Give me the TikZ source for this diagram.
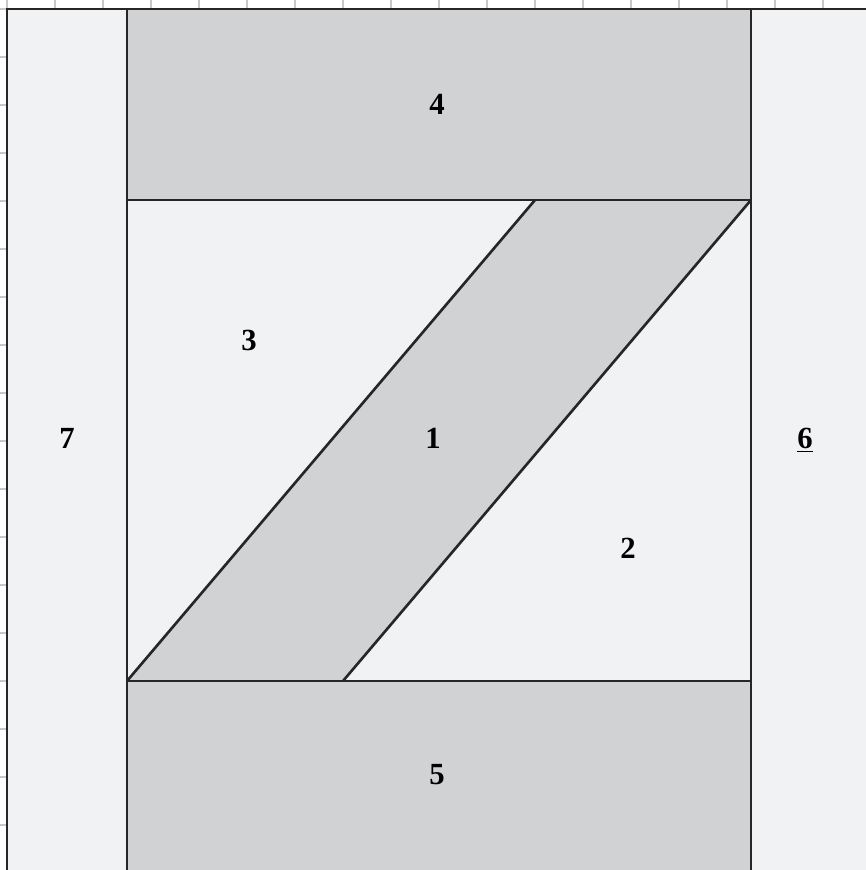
\documentclass[tikz,border=0pt]{standalone}
\usepackage{fontspec}
\setmainfont{Liberation Serif}
\definecolor{pieceLight}{HTML}{F1F2F4}
\definecolor{pieceDark}{HTML}{D1D2D4}
\definecolor{gridGray}{HTML}{C8C8C8}
\tikzset{
  seam/.style={line width=1.5pt, black!85},
  piecelabel/.style={font=\fontsize{17.5}{20}\selectfont\bfseries}
}
\begin{document}
\begin{tikzpicture}[x=0.02cm, y=-0.02cm]
    \useasboundingbox (0,0) rectangle (866,870);
    % Background grid
    \fill[white] (0,0) rectangle (866,870);
    \foreach \gx in {7,55,...,866} \draw[gridGray, line width=0.7pt] (\gx,0) -- (\gx,870);
    \foreach \gy in {9,57,...,870} \draw[gridGray, line width=0.7pt] (0,\gy) -- (866,\gy);

    % Pieces
    \fill[pieceLight] (7,9) rectangle (127,870);
    \fill[pieceLight] (751,9) rectangle (866,870);
    \fill[pieceDark] (127,9) rectangle (751,200);
    \fill[pieceDark] (127,681) rectangle (751,870);
    \fill[pieceLight] (127,200) rectangle (751,681);
    \fill[pieceDark] (127,681) -- (535,200) -- (751,200) -- (343,681) -- cycle;

    % Seams
    \draw[seam] (7,870) -- (7,9) -- (866,9);
    \draw[seam] (127,9) -- (127,870);
    \draw[seam] (751,9) -- (751,870);
    \draw[seam] (127,200) -- (751,200);
    \draw[seam] (127,681) -- (751,681);
    \draw[seam] (127,681) -- (535,200);
    \draw[seam] (343,681) -- (751,200);

    % Labels
    \node[piecelabel] (p1) at (433,438) {1};
    \node[piecelabel] (p2) at (628,548) {2};
    \node[piecelabel] (p3) at (249,340) {3};
    \node[piecelabel] (p4) at (437,104) {4};
    \node[piecelabel] (p5) at (437,775) {5};
    \node[piecelabel] (p6) at (805,440) {\underline{6}};
    \node[piecelabel] (p7) at (67,438) {7};
\end{tikzpicture}
\end{document}
